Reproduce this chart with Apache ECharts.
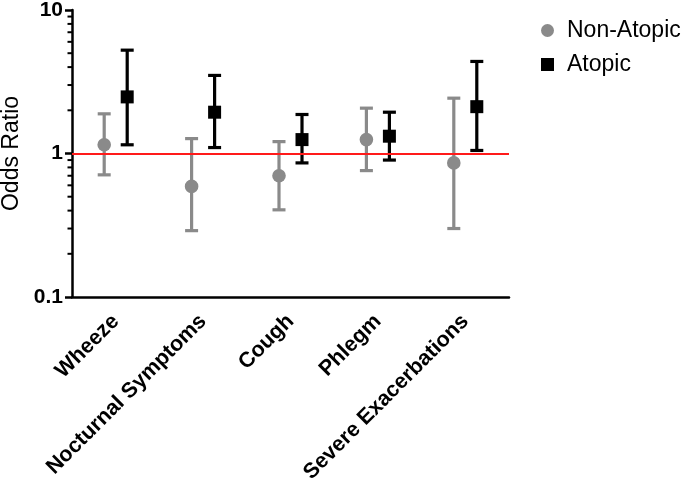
<!DOCTYPE html>
<html>
<head>
<meta charset="utf-8">
<script src="https://cdn.jsdelivr.net/npm/echarts@6/dist/echarts.min.js"></script>
<style>
  html, body { margin: 0; padding: 0; background: #fff; }
  #chart { width: 685px; height: 481px; }
</style>
</head>
<body>
<div id="chart"></div>
<script>
const categories = ["Wheeze", "Nocturnal Symptoms", "Cough", "Phlegm", "Severe Exacerbations"];

const nonAtopicOR = [1.15, 0.59, 0.70, 1.25, 0.86];
const nonAtopicLow = [0.71, 0.29, 0.405, 0.76, 0.30];
const nonAtopicHigh = [1.89, 1.27, 1.21, 2.07, 2.43];

const atopicOR = [2.48, 1.94, 1.25, 1.32, 2.12];
const atopicLow = [1.15, 1.10, 0.86, 0.90, 1.05];
const atopicHigh = [5.25, 3.5, 1.87, 1.94, 4.38];

const yMinorTicks = [0.2, 0.3, 0.4, 0.5, 0.6, 0.7, 0.8, 0.9, 2, 3, 4, 5, 6, 7, 8, 9];
const referenceLine = 1;

const font = "'Liberation Sans', Arial, sans-serif";

const chart = echarts.init(document.getElementById("chart"));

// one custom series per group: whisker, caps and the marker, shifted off the category centre
function errorBarSeries(name, color, symbol, offset, or, low, high) {
  return {
    name: name,
    type: "custom",
    itemStyle: { color: color },
    data: categories.map((c, i) => [i, or[i], low[i], high[i]]),
    encode: { x: 0, y: [1, 2, 3] },
    z: symbol === "rect" ? 4 : 3,
    renderItem: (params, api) => {
      const i = api.value(0);
      const mid = api.coord([i, api.value(1)]);
      const bot = api.coord([i, api.value(2)]);
      const top = api.coord([i, api.value(3)]);
      const x = mid[0] + offset;
      const cap = 6.5;
      const style = { stroke: color, lineWidth: 3.2 };
      const marker = symbol === "rect"
        ? { type: "rect", shape: { x: x - 6.5, y: mid[1] - 6.5, width: 13, height: 13 }, style: { fill: color } }
        : { type: "circle", shape: { cx: x, cy: mid[1], r: 6.8 }, style: { fill: color } };
      return {
        type: "group",
        children: [
          { type: "line", shape: { x1: x, y1: top[1], x2: x, y2: bot[1] }, style: style },
          { type: "line", shape: { x1: x - cap, y1: top[1], x2: x + cap, y2: top[1] }, style: style },
          { type: "line", shape: { x1: x - cap, y1: bot[1], x2: x + cap, y2: bot[1] }, style: style },
          marker
        ]
      };
    }
  };
}

const option = {
  backgroundColor: "#fff",
  animation: false,
  textStyle: { fontFamily: font },
  grid: { left: 72, top: 10, width: 437, height: 287, containLabel: false, outerBoundsMode: "none" },
  legend: {
    orient: "vertical",
    left: 536,
    top: 14,
    itemWidth: 13,
    itemHeight: 13,
    itemGap: 11,
    data: [
      { name: "Non-Atopic", icon: "circle" },
      { name: "Atopic", icon: "rect" }
    ],
    textStyle: { fontFamily: font, fontSize: 23, color: "#000", padding: [0, 0, 0, 8] }
  },
  xAxis: {
    type: "category",
    data: categories,
    axisLine: { lineStyle: { color: "#000", width: 2.5 } },
    axisTick: { alignWithLabel: true, length: 7, lineStyle: { color: "#000", width: 2.5 } },
    axisLabel: {
      interval: 0,
      rotate: 45,
      margin: 21,
      padding: [22, 0, 0, 0],
      color: "#000",
      fontFamily: font,
      fontSize: 21.5,
      fontWeight: "bold"
    },
    splitLine: { show: false }
  },
  yAxis: {
    type: "log",
    logBase: 10,
    min: 0.1,
    max: 10,
    name: "Odds Ratio",
    nameLocation: "middle",
    nameGap: 48,
    nameTextStyle: { fontFamily: font, fontSize: 23, color: "#000" },
    axisLine: { show: true, lineStyle: { color: "#000", width: 2.5 } },
    axisTick: { show: true, length: 7, lineStyle: { color: "#000", width: 2.5 } },
    axisLabel: {
      margin: 9,
      color: "#000",
      fontFamily: font,
      fontSize: 21,
      fontWeight: "bold",
      formatter: (v) => String(Number(v.toPrecision(3)))
    },
    splitLine: { show: false }
  },
  series: [
    {
      name: "minorTicks",
      type: "custom",
      silent: true,
      clip: false,
      data: yMinorTicks.map((v) => [0, v]),
      encode: { x: 0, y: 1 },
      renderItem: (params, api) => {
        const y = api.coord([0, api.value(1)])[1];
        const x0 = params.coordSys.x;
        return {
          type: "line",
          shape: { x1: x0 - 4.5, y1: y, x2: x0, y2: y },
          style: { stroke: "#000", lineWidth: 2 }
        };
      },
      markLine: {
        silent: true,
        symbol: "none",
        label: { show: false },
        lineStyle: { color: "#ff1a1a", width: 2.2, type: "solid" },
        data: [{ yAxis: referenceLine }]
      },
      z: 2
    },
    errorBarSeries("Non-Atopic", "#8a8a8a", "circle", -11.5, nonAtopicOR, nonAtopicLow, nonAtopicHigh),
    errorBarSeries("Atopic", "#000000", "rect", 11.5, atopicOR, atopicLow, atopicHigh)
  ]
};

chart.setOption(option);
</script>
</body>
</html>
